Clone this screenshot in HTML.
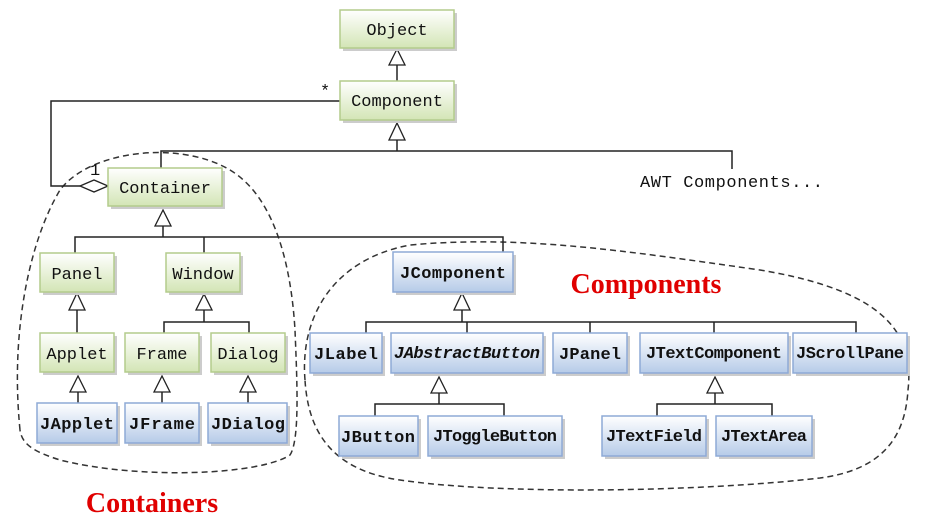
<!DOCTYPE html>
<html><head><meta charset="utf-8"><style>
html,body{margin:0;padding:0;background:#fff;}
svg{display:block}
text{font-family:"Liberation Mono",monospace;font-size:17px;fill:#111;}
.b{font-weight:bold}
</style></head><body>
<svg width="925" height="528" viewBox="0 0 925 528" xmlns="http://www.w3.org/2000/svg">
<defs>
<linearGradient id="g" x1="0" y1="0" x2="0" y2="1"><stop offset="0" stop-color="#ffffff"/><stop offset="1" stop-color="#d3e5b5"/></linearGradient>
<linearGradient id="bl" x1="0" y1="0" x2="0" y2="1"><stop offset="0" stop-color="#ffffff"/><stop offset="1" stop-color="#b6cbe8"/></linearGradient>
</defs>
<path d="M20,430 C10,330 30,240 60,190 C90,150 180,140 230,170 C280,200 292,280 295,330 C297,380 300,440 290,455 C260,475 140,480 60,460 C35,452 22,445 20,430 Z" fill="none" stroke="#333" stroke-width="1.5" stroke-dasharray="6,4"/>
<path d="M305,380 C300,320 330,260 410,245 C520,235 620,250 760,270 C880,290 915,330 908,390 C905,440 880,470 820,478 C700,492 500,495 400,480 C330,470 308,430 305,380 Z" fill="none" stroke="#333" stroke-width="1.5" stroke-dasharray="6,4"/>
<g stroke="#222" stroke-width="1.5" fill="none">
<line x1="397" y1="65" x2="397" y2="81"/>
<line x1="397" y1="140" x2="397" y2="151"/>
<polyline points="161,168 161,151 732,151 732,169"/>
<polyline points="340,101 51,101 51,186 80,186"/>
<line x1="163" y1="226" x2="163" y2="237"/>
<polyline points="75,253 75,237 503,237 503,252"/>
<line x1="204" y1="237" x2="204" y2="253"/>
<line x1="77" y1="310" x2="77" y2="333"/>
<line x1="204" y1="310" x2="204" y2="322"/>
<polyline points="164,333 164,322 249,322 249,333"/>
<line x1="78" y1="392" x2="78" y2="403"/>
<line x1="162" y1="392" x2="162" y2="403"/>
<line x1="248" y1="392" x2="248" y2="403"/>
<line x1="462" y1="310" x2="462" y2="322"/>
<polyline points="366,333 366,322 856,322 856,333"/>
<line x1="467" y1="322" x2="467" y2="333"/>
<line x1="590" y1="322" x2="590" y2="333"/>
<line x1="714" y1="322" x2="714" y2="333"/>
<line x1="439" y1="393" x2="439" y2="404"/>
<polyline points="375,416 375,404 504,404 504,416"/>
<line x1="715" y1="393" x2="715" y2="404"/>
<polyline points="657,416 657,404 772,404 772,416"/>
</g>
<g fill="#fff" stroke="#222" stroke-width="1.3">
<polygon points="397,49 389,65 405,65"/>
<polygon points="397,123 389,140 405,140"/>
<polygon points="163,210 155,226 171,226"/>
<polygon points="77,293 69,310 85,310"/>
<polygon points="204,294 196,310 212,310"/>
<polygon points="78,376 70,392 86,392"/>
<polygon points="162,376 154,392 170,392"/>
<polygon points="248,376 240,392 256,392"/>
<polygon points="462,293 454,310 470,310"/>
<polygon points="439,377 431,393 447,393"/>
<polygon points="715,377 707,393 723,393"/>
<polygon points="80,186 94,180 108,186 94,192"/>
</g>
<text x="320" y="96">*</text>
<text x="90" y="175">1</text>
<text x="640" y="187" textLength="183">AWT Components...</text>
<g stroke="#b3cc8c" stroke-width="1.5">
<rect x="343" y="13" width="114" height="38" fill="#ccc" stroke="none"/><rect x="340" y="10" width="114" height="38" fill="url(#g)"/>
<rect x="343" y="84" width="114" height="39" fill="#ccc" stroke="none"/><rect x="340" y="81" width="114" height="39" fill="url(#g)"/>
<rect x="111" y="171" width="114" height="38" fill="#ccc" stroke="none"/><rect x="108" y="168" width="114" height="38" fill="url(#g)"/>
<rect x="43" y="256" width="74" height="39" fill="#ccc" stroke="none"/><rect x="40" y="253" width="74" height="39" fill="url(#g)"/>
<rect x="169" y="256" width="74" height="39" fill="#ccc" stroke="none"/><rect x="166" y="253" width="74" height="39" fill="url(#g)"/>
<rect x="43" y="336" width="74" height="39" fill="#ccc" stroke="none"/><rect x="40" y="333" width="74" height="39" fill="url(#g)"/>
<rect x="128" y="336" width="74" height="39" fill="#ccc" stroke="none"/><rect x="125" y="333" width="74" height="39" fill="url(#g)"/>
<rect x="214" y="336" width="74" height="39" fill="#ccc" stroke="none"/><rect x="211" y="333" width="74" height="39" fill="url(#g)"/>
</g>
<g stroke="#8eaad6" stroke-width="1.5">
<rect x="40" y="406" width="80" height="40" fill="#ccc" stroke="none"/><rect x="37" y="403" width="80" height="40" fill="url(#bl)"/>
<rect x="128" y="406" width="74" height="40" fill="#ccc" stroke="none"/><rect x="125" y="403" width="74" height="40" fill="url(#bl)"/>
<rect x="211" y="406" width="79" height="40" fill="#ccc" stroke="none"/><rect x="208" y="403" width="79" height="40" fill="url(#bl)"/>
<rect x="396" y="255" width="120" height="40" fill="#ccc" stroke="none"/><rect x="393" y="252" width="120" height="40" fill="url(#bl)"/>
<rect x="313" y="336" width="72" height="40" fill="#ccc" stroke="none"/><rect x="310" y="333" width="72" height="40" fill="url(#bl)"/>
<rect x="394" y="336" width="152" height="40" fill="#ccc" stroke="none"/><rect x="391" y="333" width="152" height="40" fill="url(#bl)"/>
<rect x="556" y="336" width="74" height="40" fill="#ccc" stroke="none"/><rect x="553" y="333" width="74" height="40" fill="url(#bl)"/>
<rect x="643" y="336" width="148" height="40" fill="#ccc" stroke="none"/><rect x="640" y="333" width="148" height="40" fill="url(#bl)"/>
<rect x="796" y="336" width="114" height="40" fill="#ccc" stroke="none"/><rect x="793" y="333" width="114" height="40" fill="url(#bl)"/>
<rect x="342" y="419" width="79" height="40" fill="#ccc" stroke="none"/><rect x="339" y="416" width="79" height="40" fill="url(#bl)"/>
<rect x="431" y="419" width="134" height="40" fill="#ccc" stroke="none"/><rect x="428" y="416" width="134" height="40" fill="url(#bl)"/>
<rect x="605" y="419" width="104" height="40" fill="#ccc" stroke="none"/><rect x="602" y="416" width="104" height="40" fill="url(#bl)"/>
<rect x="719" y="419" width="96" height="40" fill="#ccc" stroke="none"/><rect x="716" y="416" width="96" height="40" fill="url(#bl)"/>
</g>
<g text-anchor="middle">
<text x="397" y="35">Object</text>
<text x="397" y="106">Component</text>
<text x="165" y="193">Container</text>
<text x="77" y="279">Panel</text>
<text x="203" y="279">Window</text>
<text x="77" y="359">Applet</text>
<text x="162" y="359">Frame</text>
<text x="248" y="359">Dialog</text>
<text class="b" x="77" y="429" textLength="74">JApplet</text>
<text class="b" x="162" y="429" textLength="66">JFrame</text>
<text class="b" x="248" y="429" textLength="74">JDialog</text>
<text class="b" x="453" y="278" textLength="106">JComponent</text>
<text class="b" x="346" y="359" textLength="64">JLabel</text>
<text class="b" x="467" y="358" font-style="italic" textLength="146">JAbstractButton</text>
<text class="b" x="590" y="359" textLength="62">JPanel</text>
<text class="b" x="714" y="358" textLength="136">JTextComponent</text>
<text class="b" x="850" y="358" textLength="108">JScrollPane</text>
<text class="b" x="378" y="442" textLength="74">JButton</text>
<text class="b" x="495" y="441" textLength="124">JToggleButton</text>
<text class="b" x="654" y="441" textLength="96">JTextField</text>
<text class="b" x="764" y="441" textLength="86">JTextArea</text>
</g>
<text x="152" y="512" text-anchor="middle" style="font-family:'Liberation Serif',serif;font-size:28px;font-weight:bold;fill:#e00000">Containers</text>
<text x="646" y="293" text-anchor="middle" style="font-family:'Liberation Serif',serif;font-size:28px;font-weight:bold;fill:#e00000">Components</text>
</svg>
</body></html>
